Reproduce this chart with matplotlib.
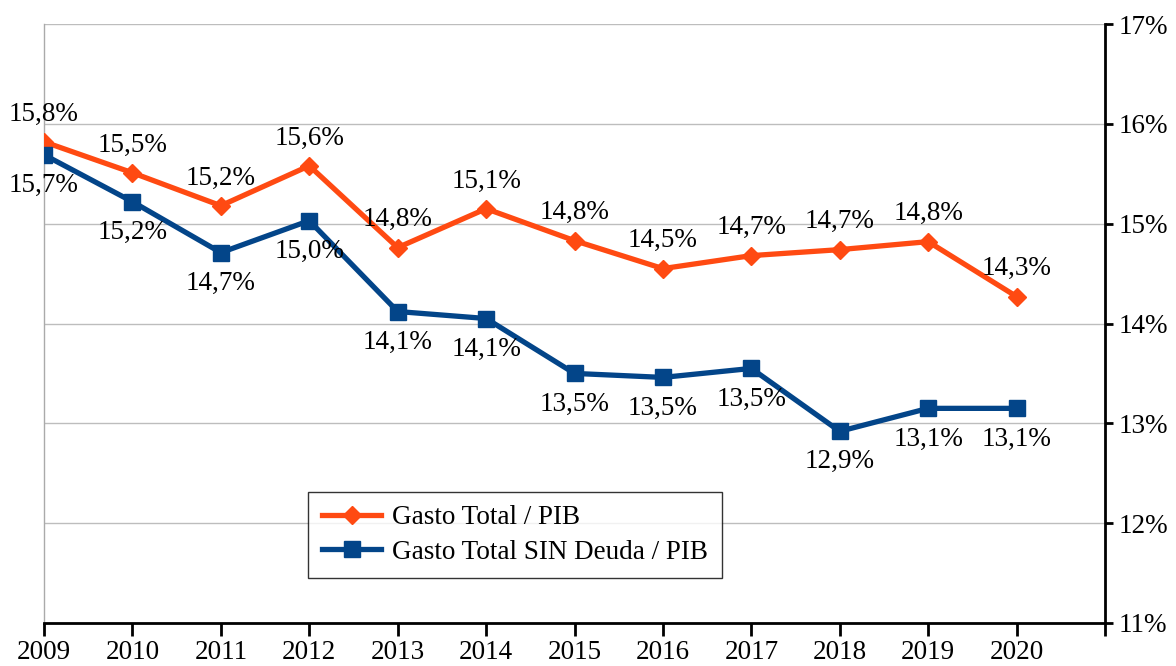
import matplotlib
matplotlib.use('Agg')
import matplotlib.pyplot as plt

years = [2009, 2010, 2011, 2012, 2013, 2014, 2015, 2016, 2017, 2018, 2019, 2020]
gasto_total = [15.82, 15.51, 15.18, 15.58, 14.76, 15.15, 14.83, 14.55, 14.68, 14.74, 14.82, 14.27]
gasto_sin_deuda = [15.69, 15.22, 14.71, 15.03, 14.12, 14.05, 13.50, 13.46, 13.55, 12.92, 13.15, 13.15]
labels_total = ['15,8%', '15,5%', '15,2%', '15,6%', '14,8%', '15,1%', '14,8%', '14,5%', '14,7%', '14,7%', '14,8%', '14,3%']
labels_sin = ['15,7%', '15,2%', '14,7%', '15,0%', '14,1%', '14,1%', '13,5%', '13,5%', '13,5%', '12,9%', '13,1%', '13,1%']
y_ticks = [11, 12, 13, 14, 15, 16, 17]

orange = '#FF4A12'
blue = '#034589'

plt.rcParams['font.family'] = ['Liberation Serif', 'DejaVu Serif']
fs = 19.5

fig = plt.figure(figsize=(11.76, 6.66), dpi=100)
ax = fig.add_axes([44/1176, 1-623/666, (1105-44)/1176, (623-24)/666])

ax.plot(years, gasto_total, color=orange, lw=3.8, marker='D', ms=9,
        label='Gasto Total / PIB', zorder=3)
ax.plot(years, gasto_sin_deuda, color=blue, lw=3.8, marker='s', ms=11.5,
        label='Gasto Total SIN Deuda / PIB', zorder=3)

for x, y, t in zip(years, gasto_total, labels_total):
    ax.annotate(t, (x, y), xytext=(0, 20), textcoords='offset points',
                ha='center', va='center', fontsize=fs)
for x, y, t in zip(years, gasto_sin_deuda, labels_sin):
    ax.annotate(t, (x, y), xytext=(0, -22), textcoords='offset points',
                ha='center', va='center', fontsize=fs)

ax.set_xlim(2009, 2021)
ax.set_ylim(11, 17)
ax.set_xticks(years + [2021])
ax.set_xticklabels([str(y) for y in years] + [''], fontsize=fs)
ax.set_yticks(y_ticks)
ax.set_yticklabels([f'{v}%' for v in y_ticks], fontsize=fs)
ax.yaxis.tick_right()
ax.grid(axis='y', color='#BDBDBD', lw=1)
ax.set_axisbelow(True)

ax.spines['top'].set_visible(False)
ax.spines['left'].set_color('#AAAAAA')
ax.spines['left'].set_linewidth(1)
ax.spines['bottom'].set_linewidth(2)
ax.spines['right'].set_linewidth(2)
ax.tick_params(axis='x', direction='out', length=9, width=2, pad=3)
ax.tick_params(axis='y', direction='out', length=6, width=2, pad=4)

leg = ax.legend(loc='lower left', bbox_to_anchor=(0.249, 0.075), fontsize=fs,
                frameon=True, fancybox=False, edgecolor='black',
                handlelength=2.2, handletextpad=0.4, borderpad=0.5,
                labelspacing=0.35, borderaxespad=0)
leg.get_frame().set_linewidth(1)

fig.savefig('out.png', dpi=100)
